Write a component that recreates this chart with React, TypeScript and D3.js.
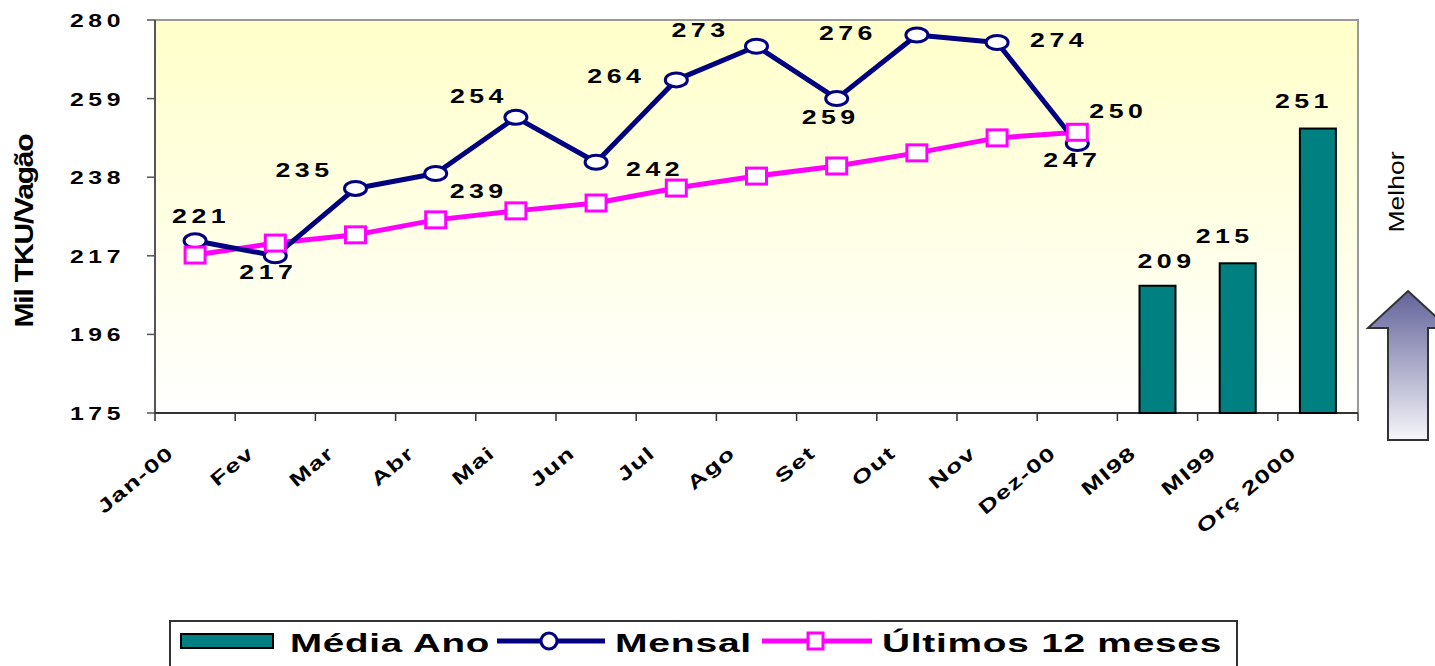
import React from "react";
import * as d3 from "d3";

// categories on the x axis
const categories = [
  "Jan-00", "Fev", "Mar", "Abr", "Mai", "Jun", "Jul", "Ago", "Set", "Out", "Nov", "Dez-00",
  "MI98", "MI99", "Orç 2000",
];
const months = categories.slice(0, 12);
const barCats = categories.slice(12);

// series
const mensal = [221, 217, 235, 239, 254, 242, 264, 273, 259, 276, 274, 247];
const ultimos12 = [217.2, 220.4, 222.6, 226.6, 229, 231.1, 235.1, 238.3, 241, 244.5, 248.5, 250];
const mediaAno = [209, 215, 251];
const yTicks = [175, 196, 217, 238, 259, 280];

// label offsets (px) relative to the mark, as Excel placed them by hand
const mensalLabelOff = [
  [6, -18], [-7, 23], [-51, -11], [43, 25], [-37, -14], [59, 14],
  [-60, 3], [-56, -9], [-6, 25], [-69, 5], [62, 5], [-5, 23],
];
const barLabelOff = [[9, -18], [-13, -20], [-14, -21]];

const W = 1435, H = 666;
const left = 155, right = 1358, top = 20, bottom = 413;
const FONT = "'Liberation Sans', Arial, sans-serif";

function NumLabel({ x, y, v }: { x: number; y: number; v: string | number }) {
  return (
    <text
      x={x}
      y={y}
      textAnchor="middle"
      fontFamily={FONT}
      fontWeight="bold"
      fontSize={21}
      letterSpacing={3.5}
      textLength={58}
      lengthAdjust="spacingAndGlyphs"
    >
      {v}
    </text>
  );
}

export default function App() {
  const x = d3.scaleBand<string>().domain(categories).range([left, right]).padding(0);
  const y = d3.scaleLinear().domain([175, 280]).range([bottom, top]);
  const cx = (c: string) => (x(c) as number) + x.bandwidth() / 2;

  const line = d3
    .line<number>()
    .x((_, i) => cx(months[i]))
    .y((d) => y(d));

  const barW = 36;
  const boundaries = d3.range(categories.length + 1).map((i) => left + i * x.bandwidth());

  return (
    <svg width={W} height={H} style={{ position: "absolute", left: 0, top: 0, background: "#fff" }}>
      <defs>
        <linearGradient id="plotBg" x1="0" y1="0" x2="0" y2="1">
          <stop offset="0" stopColor="#FFFFCA" />
          <stop offset="1" stopColor="#FFFFFF" />
        </linearGradient>
        <linearGradient id="arrowBg" x1="0" y1="0" x2="0" y2="1">
          <stop offset="0" stopColor="#62629A" />
          <stop offset="1" stopColor="#F6F6FA" />
        </linearGradient>
      </defs>

      {/* plot area */}
      <rect x={left} y={top} width={right - left} height={bottom - top} fill="url(#plotBg)" />
      <path d={`M${left},${top}H${right}V${bottom}`} fill="none" stroke="#999" strokeWidth={2} />

      {/* y axis */}
      <line x1={left} x2={left} y1={top} y2={bottom} stroke="#555" strokeWidth={2} />
      {yTicks.map((t) => (
        <g key={t}>
          <line x1={left - 8} x2={left} y1={y(t)} y2={y(t)} stroke="#555" strokeWidth={1.5} />
          <text
            x={125}
            y={y(t) + 7}
            textAnchor="end"
            fontFamily={FONT}
            fontWeight="bold"
            fontSize={19}
            letterSpacing={3.5}
            textLength={55}
            lengthAdjust="spacingAndGlyphs"
          >
            {t}
          </text>
        </g>
      ))}
      <text
        transform={`translate(33,231) rotate(-90)`}
        textAnchor="middle"
        fontFamily={FONT}
        fontWeight="bold"
        fontSize={25}
        letterSpacing={-1}
        textLength={193}
        lengthAdjust="spacingAndGlyphs"
      >
        Mil TKU/Vagão
      </text>

      {/* x axis */}
      <line x1={left} x2={right} y1={bottom} y2={bottom} stroke="#333" strokeWidth={2} />
      {boundaries.map((b, i) => (
        <line key={i} x1={b} x2={b} y1={bottom} y2={bottom + 8} stroke="#333" strokeWidth={1.5} />
      ))}
      {categories.map((c) => (
        <text
          key={c}
          transform={`translate(${cx(c) - 20},455) rotate(-40) scale(1.4,1)`}
          textAnchor="end"
          fontFamily={FONT}
          fontWeight="bold"
          fontSize={19}
          letterSpacing={1}
        >
          {c}
        </text>
      ))}

      {/* bars */}
      {mediaAno.map((v, i) => (
        <g key={barCats[i]}>
          <rect
            x={cx(barCats[i]) - barW / 2}
            y={y(v)}
            width={barW}
            height={bottom - y(v)}
            fill="#008080"
            stroke="#000"
            strokeWidth={2}
          />
          <NumLabel x={cx(barCats[i]) + barLabelOff[i][0]} y={y(v) + barLabelOff[i][1]} v={v} />
        </g>
      ))}

      {/* lines */}
      <path d={line(ultimos12) as string} fill="none" stroke="#FF00FF" strokeWidth={5} strokeLinejoin="round" />
      <path d={line(mensal) as string} fill="none" stroke="#000080" strokeWidth={5} strokeLinejoin="round" />
      {mensal.map((v, i) => (
        <ellipse key={i} cx={cx(months[i])} cy={y(v)} rx={11} ry={7} fill="#fff" stroke="#000080" strokeWidth={3} />
      ))}
      {ultimos12.map((v, i) => (
        <rect
          key={i}
          x={cx(months[i]) - 10}
          y={y(v) - 8}
          width={20}
          height={16}
          fill="#fff"
          stroke="#FF00FF"
          strokeWidth={3}
        />
      ))}

      {/* data labels */}
      {mensal.map((v, i) => (
        <NumLabel
          key={i}
          x={cx(months[i]) + mensalLabelOff[i][0]}
          y={y(v) + mensalLabelOff[i][1]}
          v={v}
        />
      ))}
      <NumLabel
        x={cx(months[11]) + 41}
        y={y(ultimos12[11]) - 14}
        v={d3.format(".0f")(ultimos12[11])}
      />

      {/* Melhor + arrow */}
      <text
        transform={`translate(1404,192) rotate(-90)`}
        textAnchor="middle"
        fontFamily={FONT}
        fontSize={22}
        textLength={81}
        lengthAdjust="spacingAndGlyphs"
      >
        Melhor
      </text>
      <path
        d="M1408,291 L1448,328 L1428,328 L1428,440 L1388,440 L1388,328 L1368,328 Z"
        fill="url(#arrowBg)"
        stroke="#333"
        strokeWidth={2}
      />

      {/* legend */}
      <rect x={170} y={621} width={1067} height={60} fill="#fff" stroke="#333" strokeWidth={2} />
      <rect x={181} y={634} width={92} height={14} fill="#008080" stroke="#000" strokeWidth={2} />
      <text x={290} y={652} fontFamily={FONT} fontWeight="bold" fontSize={26} letterSpacing={0.5} textLength={200} lengthAdjust="spacingAndGlyphs">
        Média Ano
      </text>
      <line x1={497} x2={605} y1={641} y2={641} stroke="#000080" strokeWidth={5} />
      <ellipse cx={549} cy={641} rx={8} ry={8} fill="#fff" stroke="#000080" strokeWidth={3} />
      <text x={615} y={652} fontFamily={FONT} fontWeight="bold" fontSize={26} letterSpacing={0.5} textLength={137} lengthAdjust="spacingAndGlyphs">
        Mensal
      </text>
      <line x1={762} x2={872} y1={641} y2={641} stroke="#FF00FF" strokeWidth={5} />
      <rect x={808} y={633} width={15} height={16} fill="#fff" stroke="#FF00FF" strokeWidth={3} />
      <text x={882} y={652} fontFamily={FONT} fontWeight="bold" fontSize={26} letterSpacing={0.5} textLength={340} lengthAdjust="spacingAndGlyphs">
        Últimos 12 meses
      </text>
    </svg>
  );
}
